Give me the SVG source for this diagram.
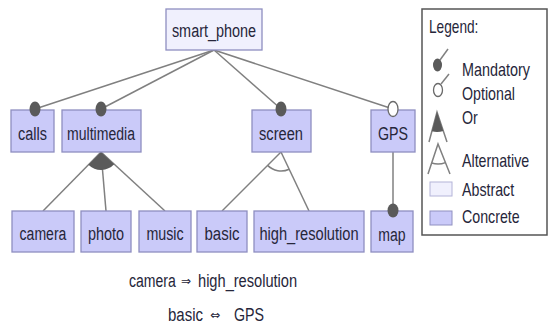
<svg xmlns="http://www.w3.org/2000/svg" width="548" height="330" viewBox="0 0 548 330">
  <style>
    .feat rect { stroke: #8e8ec0; stroke-width: 1.3; }
    .concrete rect, rect.concrete { fill: #cacaf9; }
    .abstract rect, rect.abstract { fill: #f0f0fd; }
    text { font-family: "Liberation Sans", Arial, sans-serif; font-size: 19px; fill: #26263a; }
    .lbl { text-anchor: middle; }
    .leg { font-size: 18px; }
    .sym { font-family: "DejaVu Sans", sans-serif; font-size: 12px; }
    .edge { stroke: #808080; stroke-width: 1.5; fill: none; }
    .mand { fill: #5a5a5a; }
    .opt { fill: #ffffff; stroke: #6a6a6a; stroke-width: 1.3; }
    .orfill { fill: #5a5a5a; }
  </style>

  <rect width="548" height="330" fill="#ffffff"/>

  <!-- connectors -->
  <g id="connectors">
    <line class="edge" x1="214" y1="50" x2="35" y2="109"/>
    <line class="edge" x1="214" y1="50" x2="101" y2="109"/>
    <line class="edge" x1="214" y1="50" x2="281" y2="109"/>
    <line class="edge" x1="214" y1="50" x2="393" y2="109"/>
    <line class="edge" x1="101" y1="152" x2="43" y2="211"/>
    <line class="edge" x1="101" y1="152" x2="106" y2="211"/>
    <line class="edge" x1="101" y1="152" x2="165" y2="211"/>
    <line class="edge" x1="281" y1="152" x2="222" y2="211"/>
    <line class="edge" x1="281" y1="152" x2="309" y2="211"/>
    <line class="edge" x1="393" y1="152" x2="393" y2="211"/>
    <!-- or group under multimedia -->
    <path class="orfill" d="M101,152 L88.4,164.8 A18,18 0 0 0 114.2,164.2 Z"/>
    <!-- alternative group under screen -->
    <path class="edge" d="M267.6,165.4 A19,19 0 0 0 289.2,169.2"/>
  </g>

  <!-- features (labels are drawn narrowed horizontally) -->
  <g id="smart_phone" class="feat abstract">
    <rect x="166" y="9" width="96" height="41"/>
    <text class="lbl" transform="translate(214,37) scale(0.76,1)">smart_phone</text>
  </g>
  <g id="calls" class="feat concrete">
    <rect x="11" y="110" width="43" height="42"/>
    <text class="lbl" transform="translate(32.5,139.5) scale(0.76,1)">calls</text>
    <ellipse class="mand" cx="35" cy="109" rx="5.5" ry="7.5"/>
  </g>
  <g id="multimedia" class="feat concrete">
    <rect x="62" y="110" width="79" height="42"/>
    <text class="lbl" transform="translate(101,139.5) scale(0.74,1)">multimedia</text>
    <ellipse class="mand" cx="101" cy="109" rx="5.5" ry="7.5"/>
  </g>
  <g id="screen" class="feat concrete">
    <rect x="252" y="110" width="59" height="42"/>
    <text class="lbl" transform="translate(281,139.5) scale(0.77,1)">screen</text>
    <ellipse class="mand" cx="281" cy="109" rx="5.5" ry="7.5"/>
  </g>
  <g id="GPS" class="feat concrete">
    <rect x="371" y="110" width="44" height="42"/>
    <text class="lbl" transform="translate(393,139.5) scale(0.75,1)">GPS</text>
    <ellipse class="opt" cx="393" cy="109" rx="5" ry="7.5"/>
  </g>
  <g id="camera" class="feat concrete">
    <rect x="12" y="211" width="62" height="41"/>
    <text class="lbl" transform="translate(43,240) scale(0.74,1)">camera</text>
  </g>
  <g id="photo" class="feat concrete">
    <rect x="81" y="211" width="50" height="41"/>
    <text class="lbl" transform="translate(106,240) scale(0.76,1)">photo</text>
  </g>
  <g id="music" class="feat concrete">
    <rect x="139" y="211" width="52" height="41"/>
    <text class="lbl" transform="translate(165,240) scale(0.75,1)">music</text>
  </g>
  <g id="basic" class="feat concrete">
    <rect x="197" y="211" width="50" height="41"/>
    <text class="lbl" transform="translate(222,240) scale(0.79,1)">basic</text>
  </g>
  <g id="high_resolution" class="feat concrete">
    <rect x="254" y="211" width="110" height="41"/>
    <text class="lbl" transform="translate(309,240) scale(0.77,1)">high_resolution</text>
  </g>
  <g id="map" class="feat concrete">
    <rect x="371" y="211" width="42" height="41"/>
    <text class="lbl" transform="translate(392,241) scale(0.74,1)">map</text>
    <ellipse class="mand" cx="393" cy="210.5" rx="5.5" ry="7"/>
  </g>

  <!-- cross-tree constraints -->
  <g id="constraints">
    <text transform="translate(129,287) scale(0.74,1)">camera</text>
    <text class="sym" x="181" y="285">⇒</text>
    <text transform="translate(198,287) scale(0.77,1)">high_resolution</text>
    <text transform="translate(168,321) scale(0.79,1)">basic</text>
    <text class="sym" x="210" y="319">⇔</text>
    <text transform="translate(234,321) scale(0.75,1)">GPS</text>
  </g>

  <!-- legend -->
  <g id="legend">
    <rect x="422" y="9" width="125" height="226" fill="#ffffff" stroke="#555555" stroke-width="1.5"/>
    <text class="leg" transform="translate(429,33) scale(0.76,1)">Legend:</text>

    <line class="edge" x1="440" y1="60" x2="448" y2="49"/>
    <ellipse class="mand" cx="437.5" cy="65" rx="4.5" ry="6.5"/>
    <text class="leg" transform="translate(462,76) scale(0.8,1)">Mandatory</text>

    <line class="edge" x1="441" y1="84" x2="449" y2="74"/>
    <ellipse class="opt" cx="438" cy="90" rx="4.5" ry="6.5"/>
    <text class="leg" transform="translate(462,100) scale(0.79,1)">Optional</text>

    <path class="edge" d="M429,142 L437,112 L447,142"/>
    <path class="orfill" d="M437,112 L431.8,131.3 A20,20 0 0 0 443.3,131 Z"/>
    <text class="leg" transform="translate(462,124) scale(0.79,1)">Or</text>

    <path class="edge" d="M428,174 L438,144 L450,174"/>
    <path class="edge" d="M431.7,163 A20,20 0 0 0 445.4,162.6" stroke-width="1"/>
    <text class="leg" transform="translate(462,167) scale(0.79,1)">Alternative</text>

    <rect class="abstract" x="430" y="182" width="22" height="14" stroke="#b4b4d8" stroke-width="1"/>
    <text class="leg" transform="translate(462,196) scale(0.79,1)">Abstract</text>

    <rect class="concrete" x="430" y="211" width="22" height="14" stroke="#9090c0" stroke-width="1"/>
    <text class="leg" transform="translate(462,223) scale(0.79,1)">Concrete</text>
  </g>
</svg>
